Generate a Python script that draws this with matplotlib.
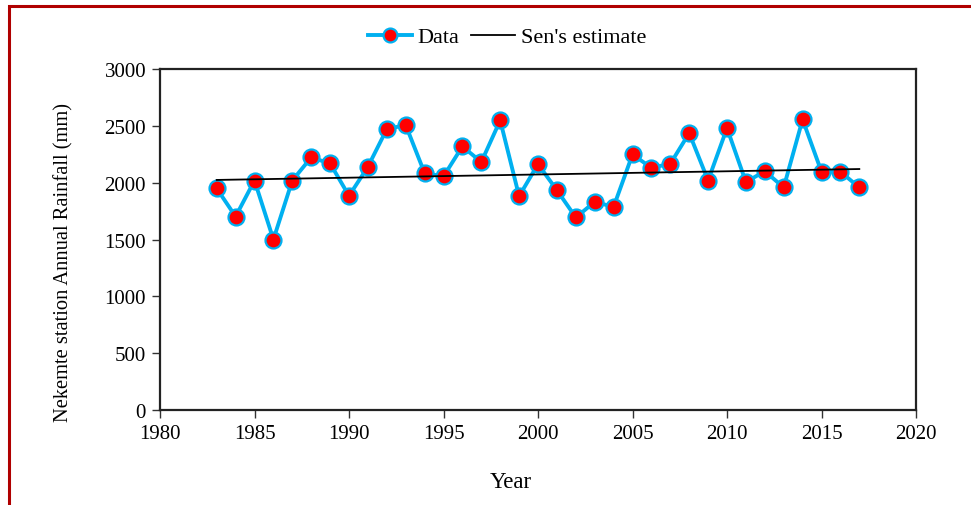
import matplotlib
matplotlib.use("Agg")
import matplotlib.pyplot as plt
from matplotlib.patches import Rectangle
from matplotlib.lines import Line2D

plt.rcParams['font.family'] = ['Liberation Serif', 'DejaVu Serif']

years = list(range(1983, 2018))
rainfall = [1949, 1702, 2019, 1500, 2019, 2222, 2169, 1884, 2140, 2471,
            2507, 2084, 2055, 2319, 2181, 2548, 1881, 2163, 1934, 1694,
            1831, 1787, 2248, 2131, 2166, 2436, 2019, 2480, 2005, 2101,
            1958, 2556, 2096, 2096, 1958]
sen_years = [1983, 2017]
sen_values = [2024, 2120]

xticks = [1980, 1985, 1990, 1995, 2000, 2005, 2010, 2015, 2020]
yticks = [0, 500, 1000, 1500, 2000, 2500, 3000]

W, H = 971, 506
fig = plt.figure(figsize=(W / 100, H / 100), dpi=100)
ax = fig.add_axes([160 / W, 1 - 411 / H, (916 - 160) / W, (411 - 70) / H])

ax.plot(years, rainfall, color='#00B0F0', lw=2.8, marker='o', ms=11.5,
        mfc='#FF0000', mec='#00B0F0', mew=1.6, zorder=3, label='Data')
ax.plot(sen_years, sen_values, color='black', lw=1.3, zorder=4,
        label="Sen's estimate")

ax.set_xlim(1980, 2020)
ax.set_ylim(0, 3000)
ax.set_xticks(xticks)
ax.set_yticks(yticks)
ax.tick_params(labelsize=15, width=1.0, length=6, color='#333333', pad=4)
for s in ax.spines.values():
    s.set_linewidth(1.6)
    s.set_color('#222222')

ax.set_xlabel('Year', fontsize=16.5)
ax.xaxis.set_label_coords((511 - 160) / 756, (411 - 472) / 341)
ax.set_ylabel('Nekemte station Annual Rainfall (mm)', fontsize=14.8)
ax.yaxis.set_label_coords((73 - 160) / 756, (411 - 262) / 341)

handles = [Line2D([], [], color='#00B0F0', lw=2.8, marker='o', ms=10,
                  mfc='#FF0000', mec='#00B0F0', mew=1.6),
           Line2D([], [], color='black', lw=1.3)]
fig.legend(handles, ['Data', "Sen's estimate"], loc='center',
           bbox_to_anchor=(507 / W, 1 - 38 / H), ncol=2, frameon=False,
           fontsize=16, handlelength=2.0, columnspacing=0.5,
           handletextpad=0.25)

# frame around the figure
fig.patches.append(Rectangle((8.5 / W, -0.05), 1.1, 1 - 6.5 / H + 0.05,
                             transform=fig.transFigure, fill=False,
                             edgecolor='#B00000', lw=2.2, zorder=10))

fig.savefig('out.png', dpi=100)
